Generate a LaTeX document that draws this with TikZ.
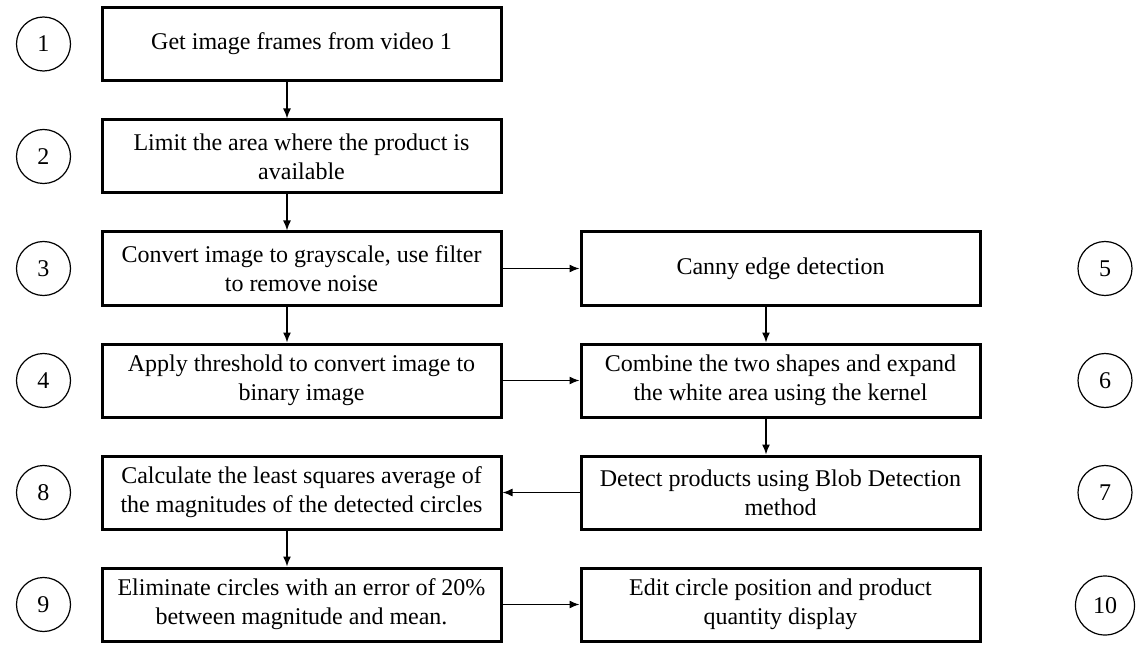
\documentclass[tikz,border=0pt]{standalone}
\usepackage{fontspec}
\setmainfont{Liberation Serif}
\usepackage{tikz}
\usetikzlibrary{positioning}
\usetikzlibrary{calc}
\usetikzlibrary{arrows.meta}

\begin{document}
\begin{tikzpicture}[x=0.5pt, y=-0.5pt,
    stepbox/.style={draw=black, line width=1.5pt, minimum width=199.5pt, minimum height=36.5pt, inner sep=2pt, align=center, font=\fontsize{12}{14.5}\selectfont},
    numcircle/.style={circle, draw=black, line width=0.6pt, minimum size=27pt, inner sep=0pt, font=\fontsize{12}{14.5}\selectfont},
    flowarrow/.style={-{Latex[length=5pt, width=4pt]}, line width=0.7pt}]
          \useasboundingbox (0,0) rectangle (1142,647);
          \node[stepbox] (s1) at (301.5, 44) {Get image frames from video 1};
          \node[stepbox] (s2) at (301.5, 156.5) {Limit the area where the product is\\available};
          \node[stepbox] (s3) at (301.5, 268.5) {Convert image to grayscale, use filter\\to remove noise};
          \node[stepbox] (s4) at (301.5, 380.5) {Apply threshold to convert image to\\binary image};
          \node[stepbox] (s8) at (301.5, 492.5) {Calculate the least squares average of\\the magnitudes of the detected circles};
          \node[stepbox] (s9) at (301.5, 604.5) {Eliminate circles with an error of 20\%\\between magnitude and mean.};
          \node[stepbox] (s5) at (780.5, 268.5) {Canny edge detection};
          \node[stepbox] (s6) at (780.5, 380.5) {Combine the two shapes and expand\\the white area using the kernel};
          \node[stepbox] (s7) at (780.5, 492.5) {Detect products using Blob Detection\\method};
          \node[stepbox] (s10) at (780.5, 604.5) {Edit circle position and product\\quantity display};
          \foreach \n/\x/\y in {1/43.5/44, 2/43.5/156.5, 3/43.5/268.5, 4/43.5/380.5, 8/43.5/492.5, 9/43.5/604.5, 5/1105/268.5, 6/1105/380.5, 7/1105/492.5} {
            \node[numcircle] (c\n) at (\x, \y) {\n};
          }
          \node[numcircle, minimum size=29.5pt] (c10) at (1105, 605.5) {10};
          \draw[flowarrow] ([xshift=-7.25pt]s1.south) -- ([xshift=-7.25pt]s2.north);
          \draw[flowarrow] ([xshift=-7.25pt]s2.south) -- ([xshift=-7.25pt]s3.north);
          \draw[flowarrow] ([xshift=-7.25pt]s3.south) -- ([xshift=-7.25pt]s4.north);
          \draw[flowarrow] ([xshift=-7.25pt]s8.south) -- ([xshift=-7.25pt]s9.north);
          \draw[flowarrow] ([xshift=-7.25pt]s5.south) -- ([xshift=-7.25pt]s6.north);
          \draw[flowarrow] ([xshift=-7.25pt]s6.south) -- ([xshift=-7.25pt]s7.north);
          \draw[flowarrow] (s3.east) -- (s5.west);
          \draw[flowarrow] (s4.east) -- (s6.west);
          \draw[flowarrow] (s7.west) -- (s8.east);
          \draw[flowarrow] (s9.east) -- (s10.west);
        \end{tikzpicture}
\end{document}
